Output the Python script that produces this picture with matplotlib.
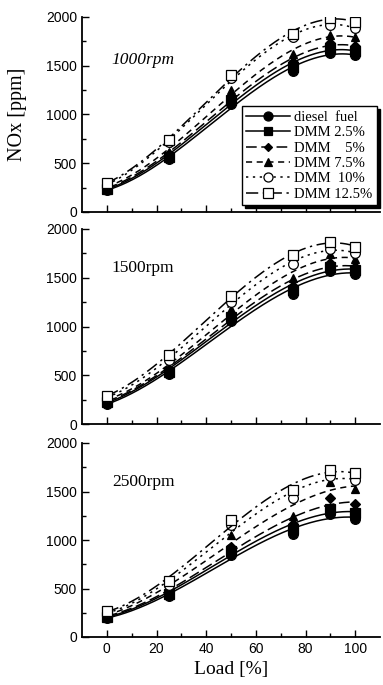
import numpy as np
import matplotlib
matplotlib.use("Agg")
import matplotlib.pyplot as plt

load = [0, 25, 50, 75, 90, 100]
series_names = ["diesel  fuel", "DMM 2.5%", "DMM    5%", "DMM 7.5%", "DMM  10%", "DMM 12.5%"]
panel_labels = ["1000rpm", "1500rpm", "2500rpm"]

nox_1000 = {
    "diesel  fuel": [230, 540, 1110, 1450, 1630, 1610],
    "DMM 2.5%":     [240, 565, 1150, 1490, 1680, 1650],
    "DMM    5%":    [250, 590, 1180, 1540, 1730, 1700],
    "DMM 7.5%":     [265, 620, 1250, 1620, 1820, 1790],
    "DMM  10%":     [285, 720, 1370, 1800, 1920, 1890],
    "DMM 12.5%":    [300, 740, 1400, 1830, 1990, 1950],
}
nox_1500 = {
    "diesel  fuel": [210, 510, 1060, 1330, 1570, 1540],
    "DMM 2.5%":     [225, 530, 1100, 1370, 1610, 1580],
    "DMM    5%":    [240, 550, 1130, 1420, 1650, 1610],
    "DMM 7.5%":     [255, 580, 1180, 1500, 1740, 1690],
    "DMM  10%":     [275, 660, 1250, 1640, 1800, 1750],
    "DMM 12.5%":    [290, 710, 1310, 1730, 1870, 1820],
}
nox_2500 = {
    "diesel  fuel": [200, 420, 850, 1060, 1270, 1220],
    "DMM 2.5%":     [210, 440, 890, 1110, 1320, 1280],
    "DMM    5%":    [220, 460, 930, 1160, 1430, 1370],
    "DMM 7.5%":     [235, 490, 1050, 1250, 1600, 1530],
    "DMM  10%":     [255, 540, 1150, 1430, 1660, 1620],
    "DMM 12.5%":    [270, 575, 1210, 1520, 1720, 1690],
}
panels = [nox_1000, nox_1500, nox_2500]

styles = {
    "diesel  fuel": dict(marker="o", mfc="black", ls="-"),
    "DMM 2.5%":     dict(marker="s", mfc="black", ls="-"),
    "DMM    5%":    dict(marker="D", mfc="black", ls=(0, (7, 3))),
    "DMM 7.5%":     dict(marker="^", mfc="black", ls=(0, (4, 3))),
    "DMM  10%":     dict(marker="o", mfc="white", ls=(0, (1.5, 3))),
    "DMM 12.5%":    dict(marker="s", mfc="white", ls=(0, (8, 3, 1.5, 3))),
}
msizes = {"diesel  fuel": 7, "DMM 2.5%": 6.5, "DMM    5%": 5, "DMM 7.5%": 6, "DMM  10%": 7, "DMM 12.5%": 7}

serif = ["Liberation Serif", "DejaVu Serif"]
sans = ["Liberation Sans", "DejaVu Sans"]

fig = plt.figure(figsize=(3.83, 6.85), dpi=100)
W, H = 383, 685
boxes = [(17, 212), (229, 424), (443, 637)]
axes = []
for (top, bot) in boxes:
    ax = fig.add_axes([82 / W, 1 - bot / H, 298 / W, (bot - top) / H])
    axes.append(ax)

xfine = np.linspace(0, 100, 200)
for i, (ax, data) in enumerate(zip(axes, panels)):
    for name in series_names:
        y = data[name]
        st = styles[name]
        coef = np.polyfit(load, y, 3)
        ax.plot(xfine, np.polyval(coef, xfine), color="black", lw=1.1, ls=st["ls"])
        ax.plot(load, y, ls="none", marker=st["marker"], mfc=st["mfc"], mec="black",
                ms=msizes[name], mew=0.9)
    ax.set_xlim(-10, 110)
    ax.set_ylim(0, 2000)
    ax.set_yticks([0, 500, 1000, 1500, 2000])
    ax.set_yticks([250, 750, 1250, 1750], minor=True)
    ax.set_xticks([0, 20, 40, 60, 80, 100])
    ax.set_xticks([10, 30, 50, 70, 90], minor=True)
    for s in ["top", "right"]:
        ax.spines[s].set_visible(False)
    for s in ["left", "bottom"]:
        ax.spines[s].set_linewidth(1.3)
    ax.tick_params(which="both", direction="in", width=1.0)
    ax.tick_params(which="major", length=5)
    ax.tick_params(which="minor", length=3)
    for lab in ax.get_yticklabels():
        lab.set_family(sans)
        lab.set_fontsize(10)
    if i < 2:
        ax.set_xticklabels([])
    else:
        for lab in ax.get_xticklabels():
            lab.set_family(sans)
            lab.set_fontsize(10)
        ax.set_xlabel("Load [%]", family=serif, fontsize=14, labelpad=4)
    ax.text(0.1, 0.78 if i == 0 else 0.8, panel_labels[i], transform=ax.transAxes,
            family=serif, fontsize=12.5, style="italic" if i == 0 else "normal",
            va="center", ha="left")

axes[0].set_ylabel("NOx [ppm]", family=serif, fontsize=14.5, labelpad=14)

handles = []
for name in series_names:
    st = styles[name]
    h, = axes[0].plot([], [], color="black", lw=1.1, ls=st["ls"], marker=st["marker"],
                      mfc=st["mfc"], mec="black", ms=msizes[name] - 0.5, mew=0.9)
    handles.append(h)
leg = axes[0].legend(handles, series_names, loc="lower right", bbox_to_anchor=(1.0, 0.02),
                     prop={"family": serif, "size": 10.5}, frameon=True, fancybox=False,
                     edgecolor="black", handlelength=3.0, handletextpad=0.3,
                     labelspacing=0.15, borderpad=0.3, borderaxespad=0.2,
                     shadow={"color": "black", "alpha": 1.0})
leg.get_frame().set_linewidth(1.0)

fig.savefig("out.png", dpi=100)
